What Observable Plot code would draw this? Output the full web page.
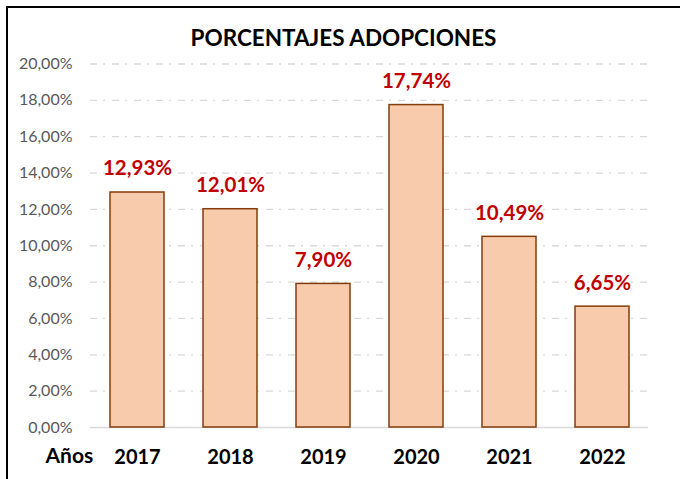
<!DOCTYPE html>
<html><head><meta charset="utf-8">
<script src="https://cdn.jsdelivr.net/npm/d3@7"></script>
<script src="https://cdn.jsdelivr.net/npm/@observablehq/plot@0.6"></script>
<style>
body{margin:0;background:#fff;font-family:Lato,"Open Sans",sans-serif;}
#wrap{position:relative;width:680px;height:479px;overflow:hidden;}
#border{position:absolute;left:6px;top:6px;width:700px;height:500px;border:2px solid #000;box-sizing:border-box;}
#chart{position:absolute;left:0;top:0;}
</style></head>
<body><div id="wrap"><div id="border"></div><div id="chart"></div></div>
<script>
const years = ["2017","2018","2019","2020","2021","2022"];
const values = [12.93, 12.01, 7.90, 17.74, 10.49, 6.65];
const yTicks = [0,2,4,6,8,10,12,14,16,18,20];
const title = "PORCENTAJES ADOPCIONES";
const xTitle = "Años";

const data = years.map((y,i)=>({year:y, value:values[i]}));
const fmt = v => v.toFixed(2).replace(".", ",") + "%";

const chart = Plot.plot({
  width: 680, height: 479,
  marginTop: 63.5, marginBottom: 52, marginLeft: 90, marginRight: 32,
  style: {fontFamily: "Lato, 'Open Sans', sans-serif", background: "transparent"},
  x: {domain: years, paddingInner: 0.42, paddingOuter: 0.21, label: null},
  y: {domain: [0, 20], label: null},
  marks: [
    Plot.ruleY(yTicks.filter(d=>d>0), {stroke: "#D9D9D9", strokeWidth: 1.3, strokeDasharray: "7,6,2,7"}),
    Plot.ruleY([0], {stroke: "#D9D9D9", strokeWidth: 1.5}),
    Plot.barY(data, {x: "year", y: "value", fill: "#F8CBAD", stroke: "#843C0C", strokeWidth: 1.5}),
    Plot.text(data, {x: "year", y: "value", text: d => fmt(d.value), lineAnchor: "bottom", dy: -17, fill: "#C00000", fontWeight: "bold", fontSize: 20.5}),
    Plot.axisY({ticks: yTicks, tickFormat: fmt, tickSize: 0, tickPadding: 18, fontSize: 16, color: "#595959", label: null}),
    Plot.axisX({tickSize: 0, tickPadding: 22, fontSize: 20, fontWeight: "bold", fill: "#000", label: null}),
    Plot.text([title], {frameAnchor: "top", dx: -26, dy: -34, fontSize: 22.5, fontWeight: "bold", fill: "#000"}),
    Plot.text([xTitle], {frameAnchor: "bottom-left", dx: -45, dy: 35, textAnchor: "start", fontSize: 21, fontWeight: "bold", fill: "#000"})
  ]
});
document.getElementById("chart").appendChild(chart);
</script></body></html>
